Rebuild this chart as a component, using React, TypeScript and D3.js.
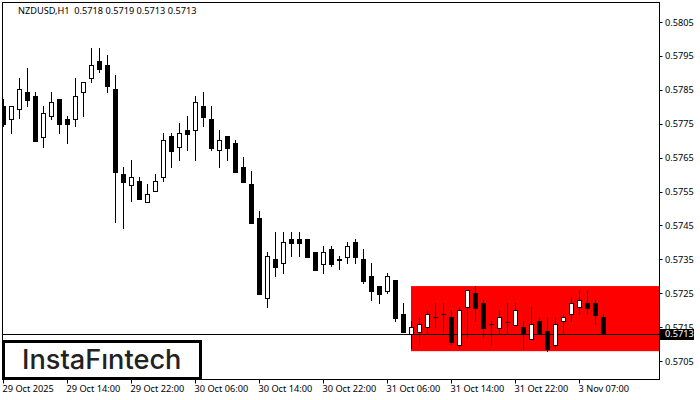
import React from 'react';
import * as d3 from 'd3';

// NZDUSD H1, prices in points (1e-5)
const opens = [57802,57764,57793,57844,57832,57711,57773,57823,57764,57764,57844,57885,57935,57923,57852,57602,57569,57581,57519,57552,57593,57714,57681,57732,57732,57802,57764,57673,57714,57693,57622,57572,57472,57236,57351,57339,57410,57410,57410,57372,57336,57380,57351,57357,57401,57351,57301,57271,57257,57289,57189,57130,57136,57150,57180,57189,57180,57097,57209,57251,57221,57159,57147,57165,57156,57150,57115,57168,57139,57097,57168,57189,57209,57221,57221,57180];
const highs = [57823,57802,57885,57914,57844,57802,57844,57823,57773,57885,57873,57973,57973,57953,57894,57622,57643,57593,57572,57602,57723,57723,57752,57773,57832,57844,57802,57732,57714,57702,57652,57611,57493,57372,57431,57431,57431,57431,57410,57372,57389,57389,57360,57401,57410,57380,57339,57271,57310,57289,57221,57168,57180,57201,57221,57221,57201,57209,57260,57271,57230,57168,57201,57221,57221,57168,57209,57180,57180,57180,57189,57239,57260,57260,57230,57189];
const lows = [57740,57720,57764,57799,57699,57678,57761,57720,57690,57740,57770,57870,57900,57841,57457,57439,57519,57528,57519,57552,57578,57619,57640,57670,57640,57740,57670,57619,57640,57608,57578,57457,57248,57206,57298,57307,57357,57357,57357,57319,57307,57327,57319,57336,57336,57277,57227,57218,57248,57165,57136,57085,57097,57130,57147,57136,57097,57085,57115,57165,57115,57097,57130,57130,57156,57085,57115,57130,57077,57085,57130,57165,57186,57186,57156,57130];
const closes = [57749,57802,57852,57820,57699,57782,57814,57749,57749,57832,57873,57923,57911,57861,57608,57578,57593,57528,57543,57581,57702,57670,57723,57720,57814,57770,57678,57702,57678,57608,57578,57457,57248,57360,57327,57401,57398,57398,57357,57319,57372,57336,57348,57389,57357,57286,57257,57248,57301,57177,57136,57150,57159,57189,57180,57189,57106,57201,57260,57206,57147,57159,57180,57165,57201,57130,57159,57130,57085,57159,57180,57221,57230,57206,57186,57130];

const priceTicks = [58050,57950,57850,57750,57650,57550,57450,57350,57250,57150,57050];
const timeLabels = ['29 Oct 2025','29 Oct 14:00','29 Oct 22:00','30 Oct 06:00','30 Oct 14:00','30 Oct 22:00','31 Oct 06:00','31 Oct 14:00','31 Oct 22:00','3 Nov 07:00'];
const timeTickIndex = [0,8,16,24,32,40,48,56,64,72];

const lastPrice = 57130;
const zoneTop = 57271;
const zoneBottom = 57079;
const zoneStartIndex = 51;

const width = 700;
const height = 400;
const frame = { left: 2.5, right: 659.5, top: 2.5, bottom: 379.5 };
const labelFont = '"Noto Sans", sans-serif';
const labelSize = 9.2;

const y = d3.scaleLinear().domain([57050, 58050]).range([361, 22]);
const x = d3.scaleLinear().domain([0, 75]).range([3.5, 603.5]);

export default function App() {
  return (
    <svg
      width={width}
      height={height}
      style={{ position: 'absolute', left: 0, top: 0, background: '#fff' }}
      fontFamily={labelFont}
    >
      <defs>
        <clipPath id="plot">
          <rect x={frame.left} y={frame.top} width={frame.right - frame.left} height={frame.bottom - frame.top} />
        </clipPath>
      </defs>

      {/* pattern zone */}
      <rect
        x={x(zoneStartIndex) - 0.5}
        y={y(zoneTop)}
        width={frame.right - x(zoneStartIndex) + 0.5}
        height={y(zoneBottom) - y(zoneTop)}
        fill="#ff0000"
      />

      {/* current price line */}
      <line x1={frame.left} x2={frame.right} y1={Math.round(y(lastPrice)) + 0.5} y2={Math.round(y(lastPrice)) + 0.5} stroke="#000" />

      {/* candles */}
      <g clipPath="url(#plot)">
        {opens.map((o, i) => {
          const c = closes[i];
          const cx = x(i);
          const top = Math.round(y(Math.max(o, c)));
          const bottom = Math.round(y(Math.min(o, c)));
          const up = c >= o;
          return (
            <g key={i}>
              <line x1={cx} x2={cx} y1={Math.round(y(highs[i]))} y2={Math.round(y(lows[i]))} stroke="#000" />
              {top === bottom ? (
                <line x1={cx - 2.5} x2={cx + 2.5} y1={top + 0.5} y2={top + 0.5} stroke="#000" />
              ) : (
                <rect
                  x={cx - 2}
                  y={top + 0.5}
                  width={4}
                  height={bottom - top}
                  fill={up ? '#fff' : '#000'}
                  stroke="#000"
                />
              )}
            </g>
          );
        })}
      </g>

      {/* header label */}
      <text x={18} y={14} fontSize={labelSize} fill="#000" style={{ whiteSpace: 'pre' }}>NZDUSD,H1  0.5718 0.5719 0.5713 0.5713</text>

      {/* frame */}
      <rect
        x={frame.left}
        y={frame.top}
        width={frame.right - frame.left}
        height={frame.bottom - frame.top}
        fill="none"
        stroke="#000"
      />

      {/* price axis */}
      {priceTicks.map((p) => (
        <g key={p}>
          <line x1={frame.right} x2={frame.right + 3} y1={Math.round(y(p)) + 0.5} y2={Math.round(y(p)) + 0.5} stroke="#000" />
          <text x={665} y={y(p) + 3.5} fontSize={labelSize} fill="#000">{(p / 1e5).toFixed(4)}</text>
        </g>
      ))}
      <rect x={660} y={329} width={34} height={11} fill="#000" />
      <text x={665} y={y(lastPrice) + 3.5} fontSize={labelSize} fill="#fff">{(lastPrice / 1e5).toFixed(4)}</text>

      {/* time axis */}
      {timeTickIndex.map((t, i) => (
        <g key={t}>
          <line x1={x(t)} x2={x(t)} y1={frame.bottom} y2={frame.bottom + 4} stroke="#000" />
          <text x={x(t) - 1} y={392} fontSize={labelSize} fill="#000">{timeLabels[i]}</text>
        </g>
      ))}

      {/* logo */}
      <rect x={3.5} y={341.5} width={197} height={37} fill="#fff" stroke="#000" strokeWidth={3} />
      <text x={22} y={369} fontSize={27.2} fontFamily="Inter, sans-serif" fontWeight={500} fill="#222">InstaFıntech</text>
    </svg>
  );
}
